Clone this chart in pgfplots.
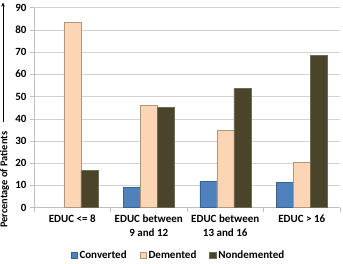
\documentclass[border=0pt]{standalone}
\usepackage{fontspec}
\setmainfont{Carlito}
\usepackage{pgfplots}
\pgfplotsset{compat=1.18}
\usetikzlibrary{calc,arrows.meta}
\definecolor{conv}{HTML}{4F81BD}
\definecolor{dem}{HTML}{FCD5B5}
\definecolor{nondem}{HTML}{4A452A}
\definecolor{axgray}{HTML}{BFBFBF}
\begin{document}
\begin{tikzpicture}[font=\bfseries\fontsize{11}{13}\selectfont]
\useasboundingbox (-34pt,-55.4pt) rectangle (309pt,207.6pt);
\begin{axis}[
  at={(0,0)}, anchor=south west,
  scale only axis, width=306pt, height=200pt,
  xmin=-0.5, xmax=3.5, ymin=0, ymax=90,
  ybar=0pt, bar width=17pt,
  ytick={0,10,...,90},
  xtick={0,1,2,3},
  xticklabels={{EDUC <= 8},{EDUC between\\9 and 12},{EDUC between\\13 and 16},{EDUC > 16}},
  minor xtick={-0.5,0.5,1.5,2.5,3.5},
  /pgf/number format/assume math mode=true,
  ticklabel style={font=\bfseries\fontsize{11}{13.5}\selectfont},
  xticklabel style={align=center},
  axis x line*=bottom, axis y line*=left,
  axis line style={axgray, -},
  tick style={axgray, thin},
  major x tick style={draw=none},
  tick align=outside,
  major tick length=4pt, minor tick length=4pt,
  ymajorgrids, grid style={axgray!70, thin},
  legend style={at={(0.472,-0.238)}, anchor=center, draw=none, fill=none,
    legend columns=3, font=\bfseries\fontsize{11}{13}\selectfont,
    /tikz/every even column/.append style={column sep=11pt}},
  legend image code/.code={\fill[#1] (0pt,-3pt) rectangle (6.5pt,3.5pt);},
]
\addplot[fill=conv, draw=conv!75!black] coordinates {(1,9.2) (2,11.9) (3,11.4)};
\addplot[fill=dem, draw=dem!70!black] coordinates {(0,83.4) (1,46.0) (2,34.7) (3,20.3)};
\addplot[fill=nondem, draw=nondem!80!white] coordinates {(0,16.8) (1,45.1) (2,53.7) (3,68.6)};
\legend{Converted, Demented, Nondemented}
\end{axis}
\node[rotate=90, anchor=east, font=\bfseries\fontsize{10.4}{12}\selectfont] at (-29.5pt,79.6pt) {Percentage of Patients};
\draw[-{Stealth[length=4pt,width=3.5pt]}, line width=0.8pt] (-31pt,86pt) -- (-31pt,205pt);
\end{tikzpicture}
\end{document}
